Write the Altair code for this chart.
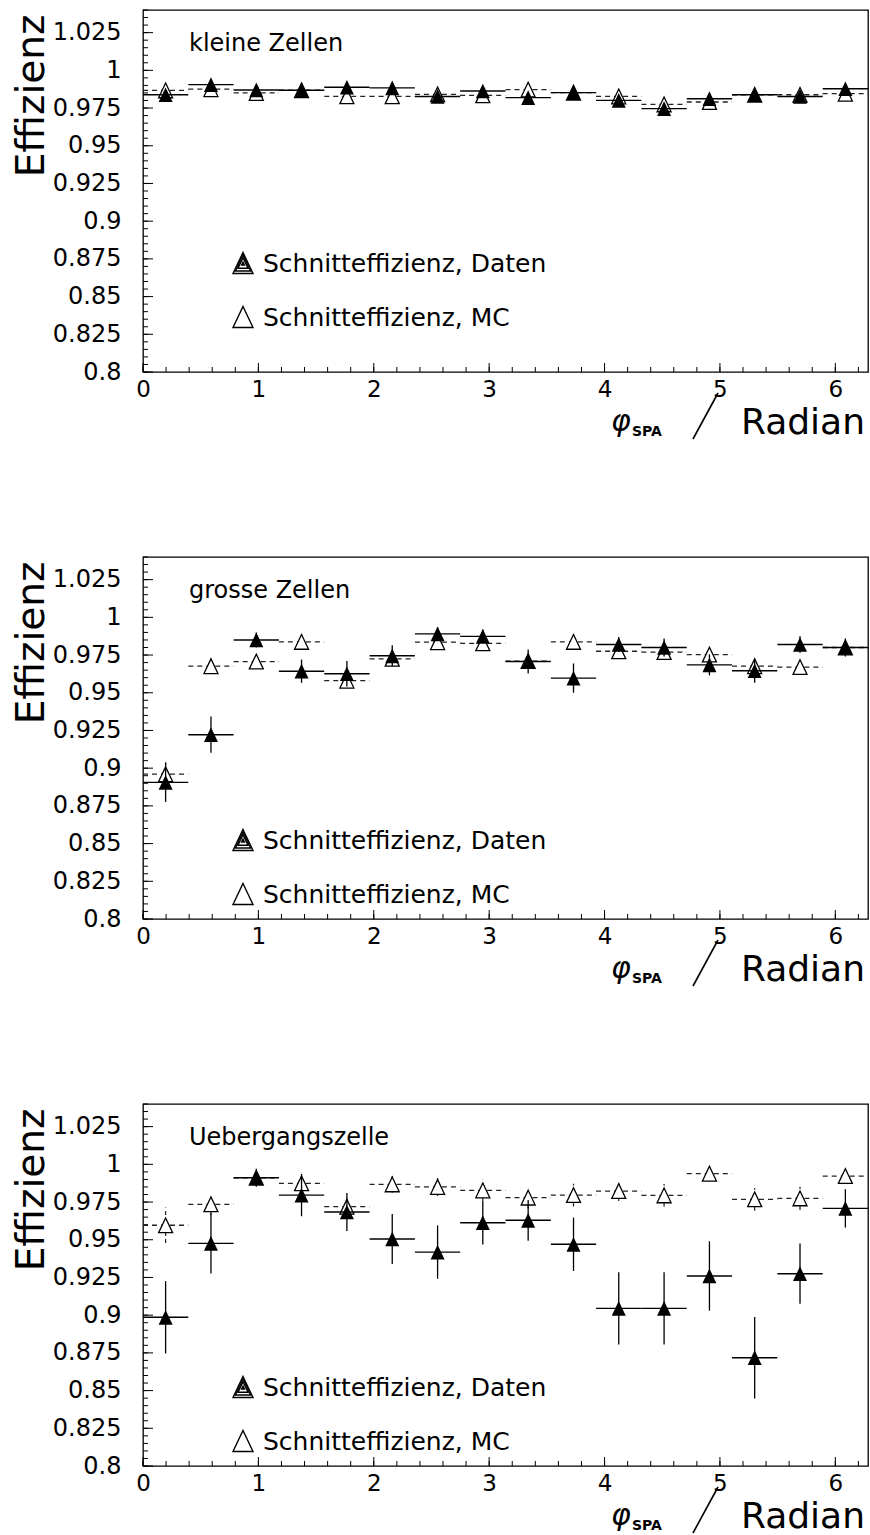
import altair as alt
import pandas as pd

FONT = "DejaVu Sans"

# bin centres of the 16 phi bins (0 .. 2*pi) and half bin width
PHI = [0.196, 0.589, 0.982, 1.374, 1.767, 2.160, 2.553, 2.945,
       3.338, 3.731, 4.123, 4.516, 4.909, 5.301, 5.694, 6.087]
HALF_BIN = 0.1963

# --- kleine Zellen ---
KLEIN_DATEN = [0.9838, 0.9905, 0.9870, 0.9868, 0.9888, 0.9884, 0.9827, 0.9863,
               0.9819, 0.9852, 0.9801, 0.9746, 0.9812, 0.9838, 0.9827, 0.9878]
KLEIN_DATEN_ERR = [0.0015, 0.0015, 0.0015, 0.0015, 0.0015, 0.0015, 0.0015, 0.0015,
                   0.0015, 0.0015, 0.0015, 0.0015, 0.0015, 0.0015, 0.0015, 0.0015]
KLEIN_MC = [0.9867, 0.9875, 0.9850, 0.9868, 0.9828, 0.9828, 0.9841, 0.9834,
            0.9872, 0.9852, 0.9827, 0.9774, 0.9790, 0.9838, 0.9838, 0.9845]
KLEIN_MC_ERR = [0.001, 0.001, 0.001, 0.001, 0.001, 0.001, 0.001, 0.001,
                0.001, 0.001, 0.001, 0.001, 0.001, 0.001, 0.001, 0.001]

# --- grosse Zellen ---
GROSS_DATEN = [0.8906, 0.9222, 0.9850, 0.9643, 0.9626, 0.9745, 0.9890, 0.9874,
               0.9707, 0.9597, 0.9820, 0.9800, 0.9685, 0.9646, 0.9820, 0.9800]
GROSS_DATEN_ERR = [0.013, 0.012, 0.005, 0.0077, 0.0085, 0.007, 0.0045, 0.0045,
                   0.008, 0.0097, 0.005, 0.006, 0.007, 0.008, 0.0055, 0.006]
GROSS_MC = [0.8960, 0.9676, 0.9707, 0.9837, 0.9580, 0.9725, 0.9835, 0.9828,
            0.9710, 0.9837, 0.9775, 0.9770, 0.9753, 0.9676, 0.9670, 0.9800]
GROSS_MC_ERR = [0.008, 0.004, 0.004, 0.003, 0.003, 0.003, 0.003, 0.003,
                0.003, 0.003, 0.0035, 0.003, 0.004, 0.004, 0.004, 0.003]

# --- Uebergangszelle ---
UEB_DATEN = [0.8986, 0.9476, 0.9911, 0.9796, 0.9684, 0.9505, 0.9418, 0.9613,
             0.9629, 0.9470, 0.9045, 0.9045, 0.9260, 0.8718, 0.9275, 0.9708]
UEB_DATEN_ERR = [0.024, 0.020, 0.006, 0.014, 0.0126, 0.0166, 0.0177, 0.0144,
                 0.0135, 0.0177, 0.024, 0.024, 0.023, 0.027, 0.020, 0.0127]
UEB_MC = [0.9596, 0.9735, 0.9911, 0.9874, 0.9719, 0.9867, 0.9850, 0.9827,
          0.9779, 0.9796, 0.9823, 0.9794, 0.9938, 0.9768, 0.9774, 0.9922]
UEB_MC_ERR = [0.0117, 0.007, 0.004, 0.007, 0.005, 0.0055, 0.006, 0.007,
              0.007, 0.0075, 0.0066, 0.0075, 0.003, 0.0075, 0.0077, 0.003]

PANEL_LABELS = ["kleine Zellen", "grosse Zellen", "Uebergangszelle"]
LEGEND_DATEN = "Schnitteffizienz, Daten"
LEGEND_MC = "Schnitteffizienz, MC"

X_LABELS = [0, 1, 2, 3, 4, 5, 6]
X_MINOR = [round(0.2 * i, 1) for i in range(32)]
Y_LABELS = [0.8, 0.825, 0.85, 0.875, 0.9, 0.925, 0.95, 0.975, 1.0, 1.025]
Y_MINOR = [round(0.8 + 0.005 * i, 3) for i in range(49)]

W, H = 725, 362
TRI = "M0,-1.05L1,1.05L-1,1.05Z"

x_scale = alt.Scale(domain=[0, 6.2832], nice=False, zero=False)
y_scale = alt.Scale(domain=[0.8, 1.04], nice=False, zero=False)

x_axis = alt.Axis(values=X_LABELS, labelFontSize=23, labelFont=FONT, labelColor="black",
                  ticks=False, tickSize=0, domain=False, grid=False, labelPadding=6,
                  labelFlush=False, title=None)
y_axis = alt.Axis(values=Y_LABELS, labelFontSize=24, labelFont=FONT, labelColor="black",
                  labelExpr="format(datum.value, '.3~f')",
                  ticks=False, tickSize=0, domain=False, grid=False, labelPadding=22,
                  labelFlush=False, title="Effizienz", titleFont=FONT, titleFontSize=39,
                  titleFontWeight="normal", titleColor="black", titleAngle=270,
                  titleAlign="right", titleBaseline="alphabetic", titleX=-100, titleY=4)


def panel(label, daten, daten_err, mc, mc_err, leg_y1, leg_y2, anchor=False):
    rows = []
    for i, p in enumerate(PHI):
        rows.append(dict(phi=p, lo=p - HALF_BIN, hi=p + HALF_BIN, val=daten[i],
                         elo=daten[i] - daten_err[i], ehi=daten[i] + daten_err[i], s="Daten"))
        rows.append(dict(phi=p, lo=p - HALF_BIN, hi=p + HALF_BIN, val=mc[i],
                         elo=mc[i] - mc_err[i], ehi=mc[i] + mc_err[i], s="MC"))
    df = pd.DataFrame(rows)
    dd = df[df.s == "Daten"]
    dm = df[df.s == "MC"]

    X = lambda f: alt.X(f, type="quantitative", scale=x_scale, axis=x_axis)
    Y = lambda f: alt.Y(f, type="quantitative", scale=y_scale, axis=y_axis)

    ymaj = alt.Chart(pd.DataFrame({"v": Y_LABELS})).mark_rule(color="black", strokeWidth=1).encode(
        y=Y("v"), x=alt.value(0), x2=alt.value(10))
    ymin = alt.Chart(pd.DataFrame({"v": Y_MINOR})).mark_rule(color="black", strokeWidth=1).encode(
        y=Y("v"), x=alt.value(0), x2=alt.value(5))
    xmaj = alt.Chart(pd.DataFrame({"v": X_LABELS})).mark_rule(color="black", strokeWidth=1).encode(
        x=X("v"), y=alt.value(H), y2=alt.value(H - 9))
    xmin = alt.Chart(pd.DataFrame({"v": X_MINOR})).mark_rule(color="black", strokeWidth=1).encode(
        x=X("v"), y=alt.value(H), y2=alt.value(H - 5))

    mc_h = alt.Chart(dm).mark_rule(color="#222", strokeWidth=1.3, strokeDash=[5, 4]).encode(
        x=X("lo"), x2="hi", y=Y("val"))
    mc_v = alt.Chart(dm).mark_rule(color="#222", strokeWidth=1.2, strokeDash=[4, 3]).encode(
        x=X("phi"), y=Y("elo"), y2="ehi")
    mc_p = alt.Chart(dm).mark_point(shape=TRI, filled=True, fill="white", stroke="black",
                                    strokeWidth=1.3, size=196, opacity=1).encode(
        x=X("phi"), y=Y("val"))
    d_h = alt.Chart(dd).mark_rule(color="black", strokeWidth=1.4).encode(
        x=X("lo"), x2="hi", y=Y("val"))
    d_v = alt.Chart(dd).mark_rule(color="black", strokeWidth=1.3).encode(
        x=X("phi"), y=Y("elo"), y2="ehi")
    d_p = alt.Chart(dd).mark_point(shape=TRI, filled=True, color="black", size=196, opacity=1).encode(
        x=X("phi"), y=Y("val"))

    txt = lambda t: alt.Chart(pd.DataFrame({"t": [t]}))
    lab = txt(label).mark_text(align="left", baseline="alphabetic", fontSize=24, font=FONT,
                               color="black").encode(text="t:N", x=alt.value(46), y=alt.value(41))
    leg1 = txt(LEGEND_DATEN).mark_text(align="left", baseline="alphabetic", fontSize=25, font=FONT,
                                       color="black").encode(text="t:N", x=alt.value(120), y=alt.value(leg_y1))
    leg2 = txt(LEGEND_MC).mark_text(align="left", baseline="alphabetic", fontSize=25, font=FONT,
                                    color="black").encode(text="t:N", x=alt.value(120), y=alt.value(leg_y2))
    legs = []
    for sz in [400, 230, 100]:
        legs.append(txt("a").mark_point(shape=TRI, filled=False, stroke="black", strokeWidth=1.4,
                                         size=sz, opacity=1).encode(x=alt.value(100), y=alt.value(leg_y1 - 9)))
    legs.append(txt("a").mark_point(shape=TRI, filled=True, color="black", size=25, opacity=1).encode(
        x=alt.value(100), y=alt.value(leg_y1 - 9)))
    legs.append(txt("a").mark_point(shape=TRI, filled=False, stroke="black", strokeWidth=1.4,
                                     size=400, opacity=1).encode(x=alt.value(100), y=alt.value(leg_y2 - 9)))

    phi_t = txt("φ").mark_text(align="left", baseline="alphabetic", fontSize=30, font=FONT,
                               fontStyle="italic", color="black").encode(
        text="t:N", x=alt.value(468), y=alt.value(421))
    spa_t = txt("SPA").mark_text(align="left", baseline="alphabetic", fontSize=14, font=FONT,
                                 fontWeight="bold", color="black").encode(
        text="t:N", x=alt.value(489), y=alt.value(426))
    slash = txt("/").mark_rule(color="black", strokeWidth=1.6).encode(
        x=alt.value(575), y=alt.value(383), x2=alt.value(550), y2=alt.value(429))
    rad_t = txt("Radian").mark_text(align="right", baseline="alphabetic", fontSize=36, font=FONT,
                                    color="black").encode(text="t:N", x=alt.value(722), y=alt.value(424))

    layers = [ymin, ymaj, xmin, xmaj, mc_h, mc_v, mc_p, d_h, d_v, d_p, lab, leg1, leg2] + legs + \
             [phi_t, spa_t, slash, rad_t]
    if anchor:
        layers.append(txt("a").mark_rule(strokeOpacity=0, strokeWidth=0.1).encode(
            x=alt.value(-142), x2=alt.value(-142), y=alt.value(-9), y2=alt.value(0)))
    return alt.layer(*layers).properties(width=W, height=H)


p1 = panel(PANEL_LABELS[0], KLEIN_DATEN, KLEIN_DATEN_ERR, KLEIN_MC, KLEIN_MC_ERR, 262, 316, anchor=True)
p2 = panel(PANEL_LABELS[1], GROSS_DATEN, GROSS_DATEN_ERR, GROSS_MC, GROSS_MC_ERR, 292, 346)
p3 = panel(PANEL_LABELS[2], UEB_DATEN, UEB_DATEN_ERR, UEB_MC, UEB_MC_ERR, 292, 346)

chart = alt.vconcat(p1, p2, p3, spacing=185, bounds="flush").properties(
    padding={"left": 0, "top": 0, "right": 0, "bottom": 0},
    background="white",
).configure(font=FONT).configure_view(stroke="black", strokeWidth=1.3)

chart.save("out.html", embed_options={"renderer": "svg", "actions": False})
